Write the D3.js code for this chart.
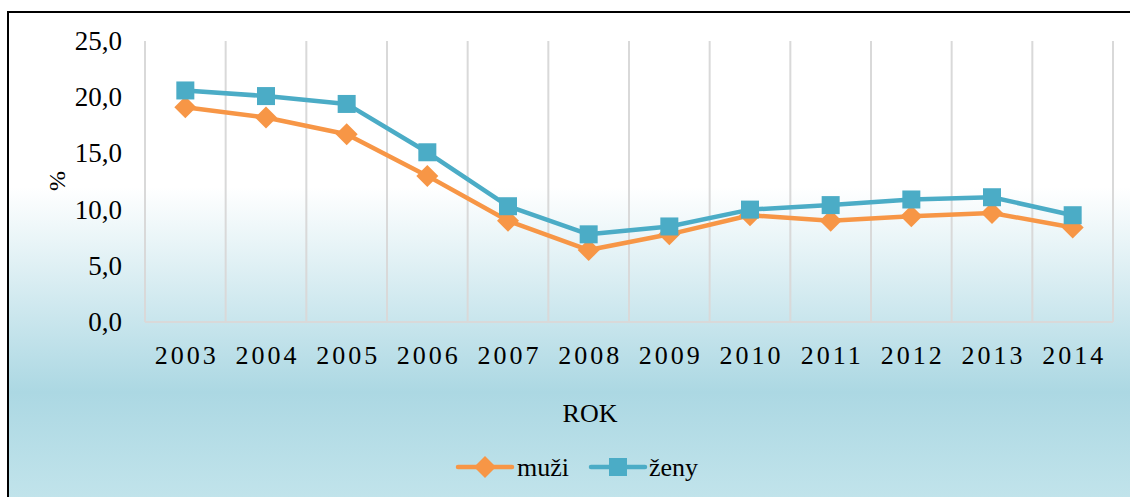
<!DOCTYPE html>
<html>
<head>
<meta charset="utf-8">
<script src="https://cdn.jsdelivr.net/npm/d3@7"></script>
<style>
  body { margin: 0; background: #fff; }
  svg { display: block; }
</style>
</head>
<body>
<svg id="graf"></svg>
<script>
const width = 1130;
const height = 497;
const fontName = "'Liberation Serif'";

// data
const years = ["2003", "2004", "2005", "2006", "2007", "2008", "2009", "2010", "2011", "2012", "2013", "2014"];
const muzi = [19.1, 18.2, 16.7, 13.0, 9.0, 6.4, 7.8, 9.5, 9.0, 9.4, 9.7, 8.4];
const zeny = [20.6, 20.1, 19.4, 15.1, 10.3, 7.8, 8.5, 10.0, 10.4, 10.9, 11.1, 9.5];
const yTicks = [0, 5, 10, 15, 20, 25];

const svg = d3.select("#graf")
  .attr("width", width)
  .attr("height", height);

// pozadí s přechodem
const defs = svg.append("defs");
const grad = defs.append("linearGradient")
  .attr("id", "pozadi")
  .attr("x1", 0).attr("y1", 0)
  .attr("x2", 0).attr("y2", 1);
grad.append("stop").attr("offset", "0%").attr("stop-color", "#ffffff");
grad.append("stop").attr("offset", "35%").attr("stop-color", "#ffffff");
grad.append("stop").attr("offset", "76%").attr("stop-color", "#acd8e3");
grad.append("stop").attr("offset", "100%").attr("stop-color", "#c4e5ec");

svg.append("rect")
  .attr("x", 8).attr("y", 12)
  .attr("width", 1140).attr("height", 500)
  .attr("fill", "url(#pozadi)")
  .attr("stroke", "#000")
  .attr("stroke-width", 2);

const plot = { left: 145, right: 1113, top: 41, bottom: 322 };

const x = d3.scaleBand()
  .domain(years)
  .range([plot.left, plot.right]);

const y = d3.scaleLinear()
  .domain([0, 25])
  .range([plot.bottom, plot.top]);

// svislé mřížky
const grid = d3.range(years.length + 1).map(i => plot.left + i * x.bandwidth());
svg.append("g")
  .selectAll("line")
  .data(grid)
  .join("line")
  .attr("x1", d => d).attr("x2", d => d)
  .attr("y1", plot.top).attr("y2", plot.bottom)
  .attr("stroke", "#d9d9d9")
  .attr("stroke-width", 2);

svg.append("line")
  .attr("x1", plot.left).attr("x2", plot.right)
  .attr("y1", plot.bottom).attr("y2", plot.bottom)
  .attr("stroke", "#d9d9d9")
  .attr("stroke-width", 2);

// popisky osy y
svg.append("g")
  .selectAll("text")
  .data(yTicks)
  .join("text")
  .attr("x", 122)
  .attr("y", d => y(d) + 9)
  .attr("text-anchor", "end")
  .style("font-family", fontName)
  .style("font-size", "27px")
  .text(d => d3.format(".1f")(d).replace(".", ","));

// popisky osy x
svg.append("g")
  .selectAll("text")
  .data(years)
  .join("text")
  .attr("x", d => x(d) + x.bandwidth() / 2 + 1.5)
  .attr("y", 364)
  .attr("text-anchor", "middle")
  .style("font-family", fontName)
  .style("font-size", "26px")
  .style("letter-spacing", "3px")
  .text(d => d);

// názvy os
svg.append("text")
  .attr("x", 590).attr("y", 422)
  .attr("text-anchor", "middle")
  .style("font-family", fontName)
  .style("font-size", "26px")
  .text("ROK");

svg.append("text")
  .attr("transform", "translate(65,181) rotate(-90)")
  .attr("text-anchor", "middle")
  .style("font-family", fontName)
  .style("font-size", "24px")
  .text("%");

// řady
const series = [
  { name: "muži", values: muzi, color: "#f79646", symbol: "diamond" },
  { name: "ženy", values: zeny, color: "#4bacc6", symbol: "square" }
];

const line = d3.line()
  .x((d, i) => x(years[i]) + x.bandwidth() / 2)
  .y(d => y(d));

function marker(g, type, color) {
  if (type === "square") {
    g.append("rect")
      .attr("x", -9).attr("y", -9)
      .attr("width", 18).attr("height", 18)
      .attr("fill", color);
  } else {
    g.append("path")
      .attr("d", "M0,-11L11,0L0,11L-11,0Z")
      .attr("fill", color);
  }
}

for (const s of series) {
  svg.append("path")
    .datum(s.values)
    .attr("d", line)
    .attr("fill", "none")
    .attr("stroke", s.color)
    .attr("stroke-width", 4.5)
    .attr("stroke-linejoin", "round");

  svg.append("g")
    .selectAll("g")
    .data(s.values)
    .join("g")
    .attr("transform", (d, i) => `translate(${x(years[i]) + x.bandwidth() / 2},${y(d)})`)
    .each(function () { marker(d3.select(this), s.symbol, s.color); });
}

// legenda
const legend = [
  { s: series[0], lx: 458, tx: 517 },
  { s: series[1], lx: 591, tx: 649 }
];
for (const l of legend) {
  const g = svg.append("g").attr("transform", `translate(${l.lx},467)`);
  g.append("line")
    .attr("x1", 0).attr("x2", 54)
    .attr("stroke", l.s.color)
    .attr("stroke-width", 4.5)
    .attr("stroke-linecap", "round");
  const m = g.append("g").attr("transform", "translate(27,0)");
  marker(m, l.s.symbol, l.s.color);
  svg.append("text")
    .attr("x", l.tx).attr("y", 476)
    .style("font-family", fontName)
    .style("font-size", "26px")
    .text(l.s.name);
}
</script>
</body>
</html>
